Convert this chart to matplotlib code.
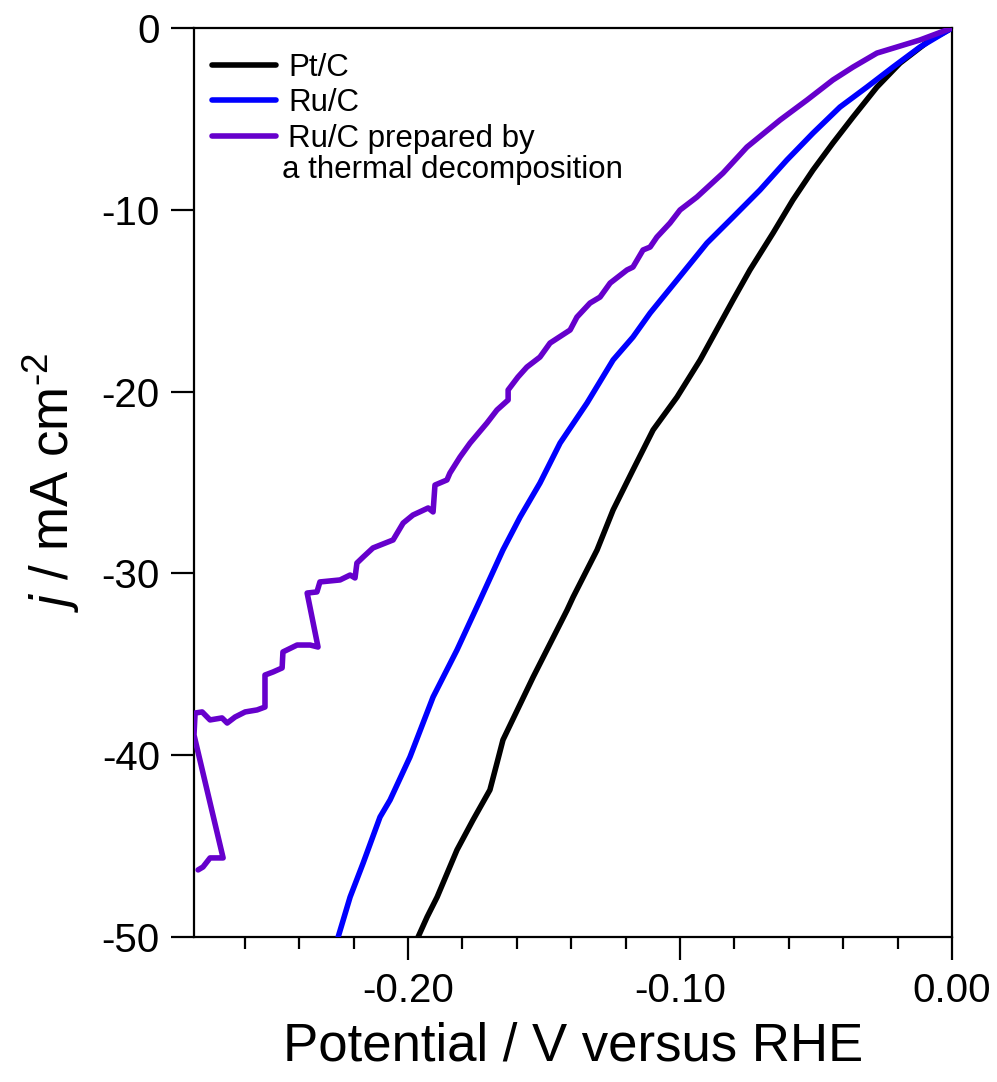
import matplotlib
matplotlib.use("Agg")
import matplotlib.pyplot as plt
from matplotlib.ticker import MultipleLocator, FixedLocator, FormatStrFormatter

plt.rcParams['font.family'] = ['Liberation Sans', 'DejaVu Sans']
plt.rcParams['mathtext.fontset'] = 'custom'
plt.rcParams['mathtext.rm'] = 'Liberation Sans'
plt.rcParams['mathtext.it'] = 'Liberation Sans:italic'

# ---- data (V vs RHE, mA cm^-2) ----
pt_v = [0.0, -0.0081, -0.0191, -0.0276, -0.0364, -0.0438, -0.0511, -0.0585, -0.0658,
        -0.0743, -0.0805, -0.0926, -0.1011, -0.1099, -0.1173, -0.1246, -0.1305, -0.1393,
        -0.1415, -0.1540, -0.1651, -0.1673, -0.1699, -0.1761, -0.1820, -0.1893, -0.1930,
        -0.1963]
pt_j = [0.0, -0.66, -1.93, -3.25, -4.90, -6.33, -7.81, -9.46, -11.28,
        -13.31, -14.96, -18.26, -20.30, -22.11, -24.31, -26.51, -28.71, -31.30,
        -32.01, -35.70, -39.16, -40.43, -41.91, -43.56, -45.21, -47.80, -48.90,
        -50.0]

ru_v = [0.0, -0.0118, -0.0217, -0.0313, -0.0412, -0.0511, -0.0607, -0.0706, -0.0805,
        -0.0901, -0.1011, -0.1110, -0.1173, -0.1246, -0.1342, -0.1441, -0.1515, -0.1588,
        -0.1651, -0.1735, -0.1820, -0.1908, -0.1993, -0.2066, -0.2103, -0.2165, -0.2213,
        -0.2257]
ru_j = [0.0, -1.05, -2.15, -3.25, -4.35, -5.78, -7.26, -8.91, -10.40,
        -11.83, -13.86, -15.68, -17.00, -18.26, -20.63, -22.83, -25.03, -26.90,
        -28.71, -31.46, -34.21, -36.80, -40.10, -42.46, -43.40, -45.93, -47.80,
        -50.0]

rut_v = [0.0, -0.0118, -0.0276, -0.0364, -0.0438, -0.0533, -0.0632, -0.0754, -0.0842,
         -0.0938, -0.1000, -0.1037, -0.1085, -0.1110, -0.1136, -0.1173, -0.1195, -0.1257,
         -0.1294, -0.1331, -0.1379, -0.1404, -0.1478, -0.1515, -0.1563, -0.1596, -0.1632,
         -0.1632, -0.1673, -0.1710, -0.1772, -0.1809, -0.1846, -0.1857, -0.1901, -0.1908,
         -0.1926, -0.1982, -0.2018, -0.2055, -0.2129, -0.2165, -0.2188, -0.2195, -0.2213,
         -0.2250, -0.2324, -0.2335, -0.2371, -0.2331, -0.2360, -0.2408, -0.2460, -0.2463,
         -0.2496, -0.2526, -0.2526, -0.2555, -0.2599, -0.2636, -0.2665, -0.2684, -0.2728,
         -0.2757, -0.2783, -0.2787, -0.2680, -0.2728, -0.2754, -0.2772]
rut_j = [0.0, -0.66, -1.38, -2.15, -2.86, -3.96, -5.06, -6.55, -7.98,
         -9.30, -10.01, -10.73, -11.50, -12.05, -12.21, -13.15, -13.31, -14.03,
         -14.80, -15.13, -15.90, -16.61, -17.33, -18.10, -18.65, -19.20, -19.91,
         -20.46, -21.01, -21.73, -22.83, -23.60, -24.48, -24.86, -25.14, -26.62,
         -26.40, -26.79, -27.23, -28.16, -28.60, -29.10, -29.43, -30.25, -30.09,
         -30.36, -30.47, -31.02, -31.08, -34.05, -33.94, -33.94, -34.32, -35.20,
         -35.42, -35.59, -37.35, -37.51, -37.62, -37.90, -38.23, -37.95, -38.06,
         -37.62, -37.68, -38.89, -45.65, -45.65, -46.15, -46.31]

labels = ["Pt/C", "Ru/C", "Ru/C prepared by", "a thermal decomposition"]
colors = ["#000000", "#0000FF", "#6600CC"]
x_major = [-0.20, -0.10, 0.00]
y_major = [0, -10, -20, -30, -40, -50]

fig = plt.figure(figsize=(9.97, 10.82), dpi=100)
ax = fig.add_axes([194/997, 1-937/1082, (952-194)/997, (937-28)/1082])

lw = 4.0
ax.plot(pt_v, pt_j, color=colors[0], lw=lw, solid_joinstyle='round', solid_capstyle='round', zorder=3)
ax.plot(ru_v, ru_j, color=colors[1], lw=lw, solid_joinstyle='round', solid_capstyle='round', zorder=4)
ax.plot(rut_v, rut_j, color=colors[2], lw=lw, solid_joinstyle='round', solid_capstyle='round', zorder=5)

ax.set_xlim(-0.2787, 0.0)
ax.set_ylim(-50, 0)

ax.xaxis.set_major_locator(FixedLocator(x_major))
ax.xaxis.set_minor_locator(MultipleLocator(0.02))
ax.xaxis.set_major_formatter(FormatStrFormatter('%.2f'))
ax.yaxis.set_major_locator(FixedLocator(y_major))
ax.yaxis.set_major_formatter(FormatStrFormatter('%d'))

for s in ax.spines.values():
    s.set_linewidth(1.6)

ax.tick_params(axis='both', which='major', direction='out', length=16.5, width=1.6,
               labelsize=29, top=False, right=False)
ax.tick_params(axis='x', which='minor', direction='out', length=8.5, width=1.6, top=False)
ax.tick_params(axis='x', which='major', pad=9)
ax.tick_params(axis='y', which='major', pad=8)

ax.set_xlabel("Potential / V versus RHE", fontsize=38, labelpad=8)
ax.set_ylabel(r"$j$ / mA cm$^{\text{-2}}$", fontsize=38, labelpad=14)

# legend drawn manually (first entry line aligned to first text line)
ys = [0.9593, 0.9208, 0.8812]
for c, lab, yy in zip(colors, labels[:3], ys):
    ax.plot([0.0237, 0.1082], [yy, yy], color=c, lw=lw, transform=ax.transAxes,
            solid_capstyle='round', clip_on=False)
    ax.text(0.124, yy, lab, transform=ax.transAxes, fontsize=22.5, va='center_baseline', ha='left')
ax.text(0.116, 0.8471, labels[3], transform=ax.transAxes, fontsize=22.5, va='center_baseline', ha='left')

fig.savefig("out.png", dpi=100)
